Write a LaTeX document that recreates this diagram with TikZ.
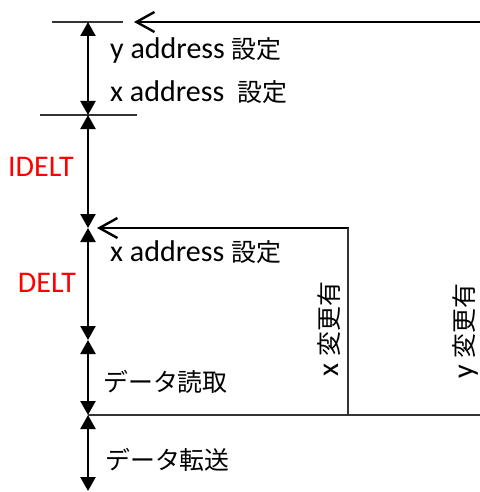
\documentclass[tikz,border=0pt]{standalone}
\usepackage{fontspec}
\setmainfont{Carlito}
\newfontfamily\jp[Scale=0.83]{Noto Sans CJK JP}
\usetikzlibrary{arrows.meta}
\begin{document}
\begin{tikzpicture}[x=1pt,y=-1pt,
  dim/.style={line width=2.4pt,{Triangle[width=15pt,length=14pt]}-{Triangle[width=15pt,length=14pt]}},
  sig/.style={line width=2.6pt,-{Straight Barb[width=20pt,length=18pt,line width=2.4pt]}},
  thin/.style={line width=1.3pt,draw=black!80},
  lbl/.style={anchor=west,inner sep=0pt,font=\fontsize{30}{34}\selectfont},
  red/.style={lbl,anchor=center,text=red},
  rot/.style={inner sep=0pt,rotate=90,font=\fontsize{30}{34}\selectfont}]
\useasboundingbox (0,0) rectangle (479,492);
% levels on the time axis
\coordinate (t0) at (88,22);
\coordinate (t1) at (88,115);
\coordinate (t2) at (88,228);
\coordinate (t3) at (88,340);
\coordinate (t4) at (88,415);
\coordinate (t5) at (88,491);
% tick lines
\coordinate (a0) at (52,22);
\coordinate (b0) at (123,22);
\coordinate (a1) at (40,115);
\coordinate (b1) at (137,115);
\draw[thin] (a0) -- (b0);
\draw[thin] (a1) -- (b1);
% dimension arrows
\draw[dim] (t0) -- (t1);
\draw[dim] (t1) -- (t2);
\draw[dim] (t2) -- (t3);
\draw[dim] (t3) -- (t4);
\draw[dim] (t4) -- (t5);
% incoming signals
\coordinate (s0) at (480,22);
\coordinate (e0) at (134,22);
\draw[sig] (s0) -- (e0);
\coordinate (xc) at (348,228);
\coordinate (xb) at (348,415);
\coordinate (e2) at (97,228);
\coordinate (r4) at (480,415);
\draw[sig,line cap=rect] (xc) -- (e2);
\draw[thin] (xc) -- (xb);
\draw[thin] (t4) -- (r4);
% labels
\node[lbl] (l1) at (110,50) {y address {\jp 設定}};
\node[lbl] (l2) at (110,92) {x address\ \ {\jp 設定}};
\node[red] (l3) at (41,167) {IDELT};
\node[red] (l4) at (47,283) {DELT};
\node[lbl] (l5) at (110,252) {x address {\jp 設定}};
\node[lbl] (l6) at (103,382) {\jp データ読取};
\node[lbl] (l7) at (105,460) {\jp データ転送};
\node[rot] (r1) at (329,329) {x {\jp 変更有}};
\node[rot] (r2) at (465,331) {y {\jp 変更有}};
\end{tikzpicture}
\end{document}
